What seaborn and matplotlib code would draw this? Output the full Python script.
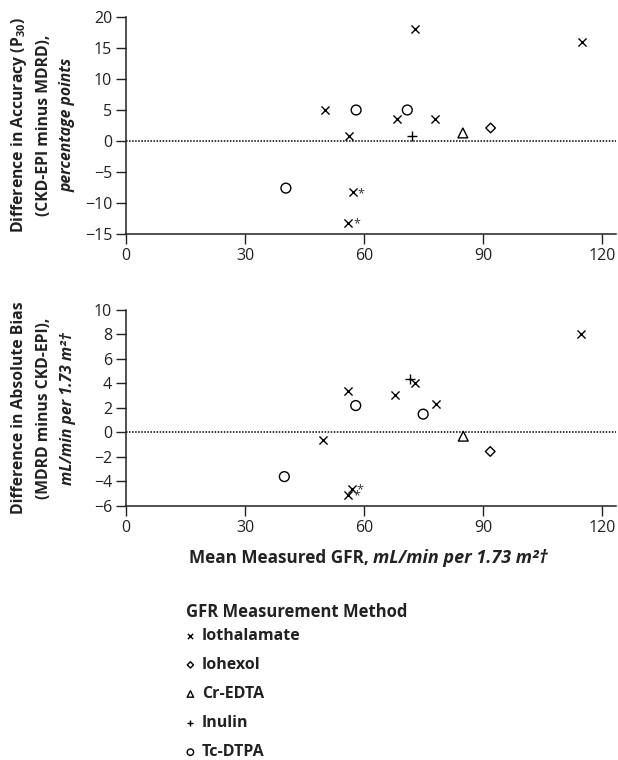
import matplotlib
matplotlib.use("Agg")
import matplotlib.pyplot as plt
import pandas as pd
import seaborn as sns

# GFR measurement methods (legend order)
methods = ["Iothalamate", "Iohexol", "Cr-EDTA", "Inulin", "Tc-DTPA"]
method_markers = {"Iothalamate": "x", "Iohexol": "D", "Cr-EDTA": "^",
                  "Inulin": "+", "Tc-DTPA": "o"}
method_sizes = {"Iothalamate": 34, "Iohexol": 24, "Cr-EDTA": 50,
                "Inulin": 45, "Tc-DTPA": 50}

# Top panel: difference in accuracy (P30), percentage points
acc_method = ["Iothalamate"] * 8 + ["Tc-DTPA"] * 3 + ["Cr-EDTA", "Iohexol", "Inulin"]
acc_gfr = [50.2, 68.2, 72.9, 78.0, 114.9, 56.3, 57.2, 56.0,
           58.0, 70.9, 40.3, 84.9, 91.9, 72.1]
acc_diff = [5.0, 3.5, 18.0, 3.5, 16.0, 0.8, -8.3, -13.2,
            5.0, 5.0, -7.6, 1.3, 2.1, 0.8]
acc_star = [False] * 6 + [True, True] + [False] * 6

# Bottom panel: difference in absolute bias, mL/min per 1.73 m2
bias_method = ["Iothalamate"] * 8 + ["Inulin"] + ["Tc-DTPA"] * 3 + ["Cr-EDTA", "Iohexol"]
bias_gfr = [114.7, 72.9, 56.0, 67.8, 78.1, 49.7, 56.9, 56.0,
            71.7, 57.9, 74.9, 39.9, 85.0, 91.8]
bias_diff = [8.0, 4.0, 3.4, 3.1, 2.3, -0.6, -4.6, -5.1,
             4.4, 2.2, 1.5, -3.6, -0.3, -1.55]
bias_star = [False] * 6 + [True, True] + [False] * 6

x_ticks = [0, 30, 60, 90, 120]
acc_ticks = [-15, -10, -5, 0, 5, 10, 15, 20]
bias_ticks = [-6, -4, -2, 0, 2, 4, 6, 8, 10]

df_acc = pd.DataFrame({"method": acc_method, "gfr": acc_gfr,
                       "diff": acc_diff, "star": acc_star})
df_bias = pd.DataFrame({"method": bias_method, "gfr": bias_gfr,
                        "diff": bias_diff, "star": bias_star})

sns.set_style("ticks")
plt.rcParams["font.family"] = ["Open Sans", "DejaVu Sans"]
plt.rcParams["mathtext.fontset"] = "custom"
plt.rcParams["mathtext.rm"] = "Open Sans:bold"
plt.rcParams["mathtext.it"] = "Open Sans:bold:italic"
plt.rcParams["mathtext.default"] = "rm"

W, H = 618, 760
fig = plt.figure(figsize=(W / 100, H / 100), dpi=100)

def px_axes(left, top, right, bottom):
    return fig.add_axes([left / W, 1 - bottom / H, (right - left) / W, (bottom - top) / H])

ax_top = px_axes(126, 17, 616, 234)
ax_bot = px_axes(126, 310, 616, 506)

TXT = "#222222"


def draw_panel(ax, df, ylim, yticks):
    for m in methods:
        sub = df[df["method"] == m]
        mk = method_markers[m]
        kw = dict(color="black", linewidth=1.0)
        if mk in ("o", "^", "D"):
            kw.update(facecolor="none", edgecolor="black")
        sns.scatterplot(data=sub, x="gfr", y="diff", marker=mk,
                        s=method_sizes[m], ax=ax, label=m, legend=False, **kw)
    # asterisks next to flagged studies
    for _, r in df[df["star"]].iterrows():
        ax.annotate("*", xy=(r["gfr"], r["diff"]), xytext=(3.5, -5.5),
                    textcoords="offset points", fontsize=9, color="#333333",
                    ha="left", va="bottom")
    ax.axhline(0, color="black", linestyle=(0, (1, 1.0)), linewidth=1.1)
    ax.set_xlim(0, 123.5)
    ax.set_ylim(*ylim)
    ax.set_xticks(x_ticks)
    ax.set_yticks(yticks)
    ax.set_xlabel("")
    ax.set_ylabel("")
    ax.tick_params(direction="out", length=7, width=1.0, labelsize=11.5,
                   color=TXT, labelcolor=TXT, pad=3)
    for side in ("left", "bottom"):
        ax.spines[side].set_linewidth(1.1)
        ax.spines[side].set_color(TXT)
    sns.despine(ax=ax)


draw_panel(ax_top, df_acc, (-15, 20), acc_ticks)
draw_panel(ax_bot, df_bias, (-6, 10), bias_ticks)

# Y axis labels (three lines each)
def ylabel_lines(lines, y_center):
    xs = [19, 44, 68]
    for (txt, italic), xp in zip(lines, xs):
        fig.text(xp / W, 1 - y_center / H, txt, rotation=90, ha="center", va="center",
                 fontsize=11.3, fontweight="bold", color=TXT,
                 fontstyle="italic" if italic else "normal")

ylabel_lines([("Difference in Accuracy (P$_{30}$)", False),
              ("(CKD-EPI minus MDRD),", False),
              ("percentage points", True)], 125)
ylabel_lines([("Difference in Absolute Bias", False),
              ("(MDRD minus CKD-EPI),", False),
              ("mL/min per 1.73 m\u00b2\u2020", True)], 408)

# X axis label
fig.text(369 / W, 1 - 558 / H, "Mean Measured GFR,", ha="right", va="center",
         fontsize=12.3, fontweight="bold", color=TXT)
fig.text(373 / W, 1 - 558 / H, "mL/min per 1.73 m\u00b2\u2020", ha="left", va="center",
         fontsize=13, fontweight="bold", fontstyle="italic", color=TXT)

# Legend
fig.text(186 / W, 1 - 612 / H, "GFR Measurement Method", ha="left", va="center",
         fontsize=12, fontweight="bold", color=TXT)
handles, labels = ax_top.get_legend_handles_labels()
order = [labels.index(m) for m in methods]
leg = fig.legend([handles[i] for i in order], [labels[i] for i in order],
                 loc="upper left", bbox_to_anchor=(186 / W, 1 - 628 / H),
                 frameon=False, markerscale=0.65, handlelength=0.55,
                 handletextpad=0.45, labelspacing=0.82, borderpad=0,
                 borderaxespad=0, prop={"weight": "bold", "size": 11.5})
for t in leg.get_texts():
    t.set_color(TXT)

fig.savefig("out.png", dpi=100)
